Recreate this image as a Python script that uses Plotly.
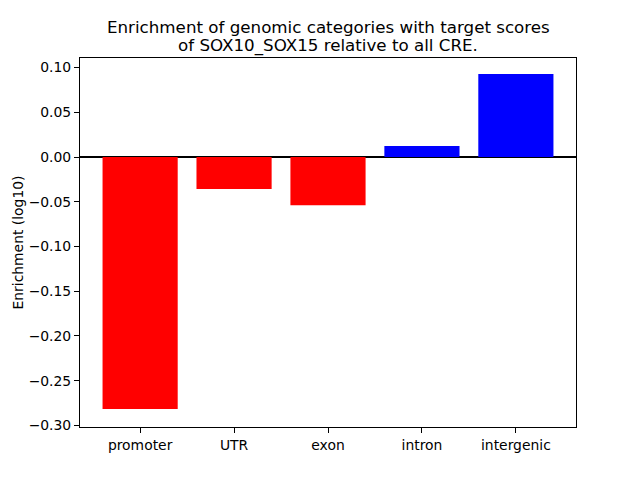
import plotly.graph_objects as go

categories = ["promoter", "UTR", "exon", "intron", "intergenic"]
enrichment = [-0.2817, -0.0358, -0.0540, 0.0123, 0.0928]
colors = ["#ff0000" if v < 0 else "#0000ff" for v in enrichment]
y_ticks = [0.10, 0.05, 0.00, -0.05, -0.10, -0.15, -0.20, -0.25, -0.30]
y_tick_labels = ["0.10", "0.05", "0.00", "\u22120.05", "\u22120.10", "\u22120.15", "\u22120.20", "\u22120.25", "\u22120.30"]
title_lines = ["Enrichment of genomic categories with target scores",
               "of SOX10_SOX15 relative to all CRE."]
y_label = "Enrichment (log10)"

fig = go.Figure(go.Bar(
    x=list(range(len(categories))), y=enrichment,
    marker=dict(color=colors, line=dict(width=0)),
    width=0.8,
))

font = dict(family="DejaVu Sans", size=13.9, color="black")
title_font = dict(family="DejaVu Sans", size=16.7, color="black")
fig.update_layout(
    width=640, height=480,
    margin=dict(l=72, r=72, t=50, b=61, autoexpand=False),
    paper_bgcolor="white", plot_bgcolor="white",
    font=font,
    showlegend=False,
    annotations=[
        dict(text=title_lines[0], x=0.5, xref="paper", xanchor="center",
             y=1, yref="paper", yanchor="middle", yshift=31,
             showarrow=False, font=title_font),
        dict(text=title_lines[1], x=0.5, xref="paper", xanchor="center",
             y=1, yref="paper", yanchor="middle", yshift=13,
             showarrow=False, font=title_font),
        dict(text=y_label, x=0, xref="paper", xanchor="center", xshift=-63,
             y=0.5, yref="paper", yanchor="middle", textangle=-90,
             showarrow=False, font=font),
    ],
    xaxis=dict(
        range=[-0.64, 4.64], automargin=False,
        tickmode="array", tickvals=list(range(len(categories))), ticktext=categories,
        ticks="outside", ticklen=5, tickwidth=1, tickcolor="black",
        showline=True, linecolor="black", linewidth=1, mirror=True,
        showgrid=False, zeroline=False,
        tickfont=font,
    ),
    yaxis=dict(
        range=[-0.3018, 0.1107], automargin=False,
        tickmode="array", tickvals=y_ticks, ticktext=y_tick_labels,
        ticks="outside", ticklen=5, tickwidth=1, tickcolor="black",
        showline=True, linecolor="black", linewidth=1, mirror=True,
        showgrid=False,
        zeroline=True, zerolinecolor="black", zerolinewidth=2,
        tickfont=font,
    ),
)

fig.write_html("out.html")
